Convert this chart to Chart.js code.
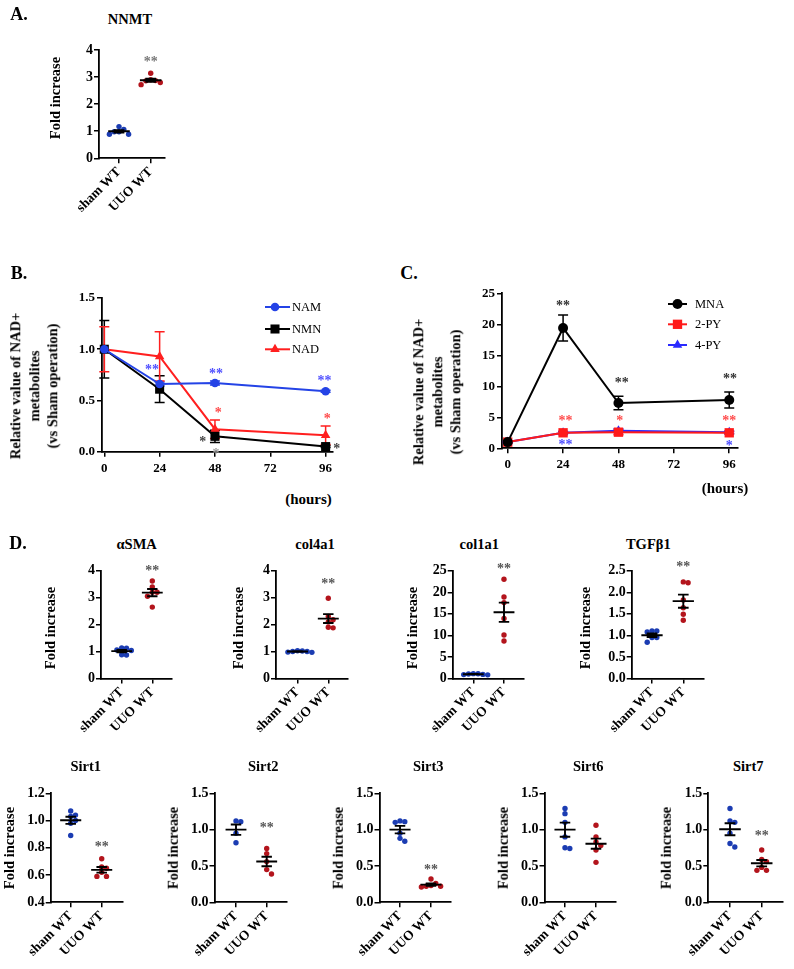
<!DOCTYPE html>
<html><head><meta charset="utf-8"><title>NAD+ metabolites figure</title>
<script src="https://cdn.jsdelivr.net/npm/chart.js@4.4.1/dist/chart.umd.min.js"></script>
<style>
html,body{margin:0;padding:0;background:#fff}
body{position:relative;width:794px;height:969px;overflow:hidden;font-family:"Liberation Serif","Times New Roman",serif;color:#000}
canvas{position:absolute}
.lbl{position:absolute;white-space:nowrap;font-weight:bold;line-height:1;transform-origin:center center}
</style></head><body>
<script>
// ---------------- DATA ----------------
const GROUPS = ['sham WT', 'UUO WT'];

// Panel A : NNMT
const nnmtSham = [1.07, 1.17, 0.89, 0.98, 0.89, 0.98];
const nnmtUUO  = [3.14, 2.90, 2.87, 2.86, 2.80, 2.72];

// Panel D : fibrosis markers and sirtuins
const asmaSham   = [1.12, 1.06, 1.04, 0.88, 0.87, 1.13];
const asmaUUO    = [3.62, 3.40, 3.20, 3.20, 3.05, 2.65];
const col4a1Sham = [0.97, 1.03, 1.00, 0.98, 1.02, 1.00];
const col4a1UUO  = [2.98, 2.30, 2.18, 2.10, 1.88, 1.90];
const col1a1Sham = [0.85, 1.05, 0.95, 1.12, 0.90, 1.10];
const col1a1UUO  = [23.0, 18.9, 17.6, 13.9, 10.1, 8.7];
const tgfSham    = [1.10, 1.08, 1.10, 0.95, 0.95, 0.84];
const tgfUUO     = [2.22, 2.24, 1.82, 1.64, 1.49, 1.35];
const sirt1Sham  = [1.07, 1.04, 1.03, 1.00, 0.98, 0.89];
const sirt1UUO   = [0.72, 0.66, 0.65, 0.62, 0.59, 0.59];
const sirt2Sham  = [1.12, 1.11, 0.95, 0.82];
const sirt2UUO   = [0.74, 0.67, 0.56, 0.45, 0.39];
const sirt3Sham  = [1.12, 1.10, 1.11, 0.95, 0.88, 0.84];
const sirt3UUO   = [0.32, 0.26, 0.22, 0.22, 0.21, 0.23];
const sirt6Sham  = [1.29, 1.22, 1.10, 0.90, 0.75, 0.74];
const sirt6UUO   = [1.06, 0.90, 0.83, 0.78, 0.72, 0.55];
const sirt7Sham  = [1.29, 1.12, 1.10, 0.95, 0.81, 0.76];
const sirt7UUO   = [0.72, 0.59, 0.56, 0.48, 0.44, 0.44];

// y tick labels of the dot plots
const ticks0to4   = [0, 1, 2, 3, 4];
const ticks0to25  = [0, 5, 10, 15, 20, 25];
const ticks0to25b = [0, 0.5, 1.0, 1.5, 2.0, 2.5];
const ticks04to12 = [0.4, 0.6, 0.8, 1.0, 1.2];
const ticks0to15  = [0, 0.5, 1.0, 1.5];

// significance marks above the UUO group (value of mark centre)
const dotNames    = ['NNMT', 'αSMA', 'col4a1', 'col1a1', 'TGFβ1', 'Sirt1', 'Sirt2', 'Sirt3', 'Sirt6', 'Sirt7'];
const dotStarText = ['**', '**', '**', '**', '**', '**', '**', '**', '', '**'];
const dotStarY    = [3.65, 4.08, 3.6, 26.0, 2.63, 0.82, 1.05, 0.48, null, 0.94];

// Panel B : NAD+ metabolites (0.0-1.5)
const hours     = [0, 24, 48, 96];
const hourTicks = [0, 24, 48, 72, 96];
const namMean = [1.00, 0.66, 0.67, 0.59], namSem = [0.00, 0.02, 0.02, 0.01];
const nmnMean = [1.00, 0.61, 0.15, 0.05], nmnSem = [0.28, 0.13, 0.06, 0.01];
const nadMean = [1.00, 0.93, 0.22, 0.16], nadSem = [0.22, 0.24, 0.09, 0.09];
const bTicks  = [0, 0.5, 1.0, 1.5];
const bStarText = ['**', '**', '**', '*', '*', '*', '*', '*'];
const bStarX    = [20.7, 48.5, 95.5, 49.4, 96.7, 42.7, 100.8, 48.4];
const bStarY    = [0.815, 0.78, 0.71, 0.40, 0.34, 0.12, 0.05, 0.0];
const bStarCol  = ['#5050ff', '#5050ff', '#5050ff', '#ff4a4a', '#ff4a4a', '#444', '#444', '#999'];

// Panel C : MNA, 2-PY, 4-PY (0-25)
const mnaMean = [1.0, 19.4, 7.3, 7.8],  mnaSem = [0.1, 2.1, 1.1, 1.3];
const py2Mean = [1.0, 2.5, 2.6, 2.5],   py2Sem = [0.1, 0.2, 0.4, 0.2];
const py4Mean = [1.0, 2.5, 2.85, 2.6],  py4Sem = [0.1, 0.2, 0.3, 0.2];
const cTicks  = [0, 5, 10, 15, 20, 25];
const cStarText = ['**', '**', '**', '**', '*', '**', '**', '*'];
const cStarX    = [24, 49.4, 96.3, 25.1, 48.6, 96, 25, 96];
const cStarY    = [23.4, 10.9, 11.55, 4.73, 4.73, 4.7, 0.97, 0.8];
const cStarCol  = ['#333', '#333', '#333', '#ff4a4a', '#ff4a4a', '#ff4a4a', '#4a4aff', '#4a4aff'];

// ---------------- HELPERS ----------------
const SERIF = '"Liberation Serif", "Times New Roman", serif';
Chart.defaults.font.family = SERIF;
Chart.defaults.color = '#000';
Chart.defaults.animation = false;
Chart.defaults.plugins.legend.display = false;
Chart.defaults.plugins.tooltip.enabled = false;

const BLUE_DOT = '#1b3cb2', RED_DOT = '#b3141c';
const mean = a => a.reduce((s, v) => s + v, 0) / a.length;
const sem = a => { const m = mean(a); return Math.sqrt(a.reduce((s, v) => s + (v - m) * (v - m), 0) / (a.length - 1) / a.length); };
const fmt1 = v => Number(v).toFixed(1);
const fmt0 = v => String(Math.round(v));

function mkCanvas(l, t, w, h) {
  const c = document.createElement('canvas');
  c.width = w; c.height = h;
  c.style.left = l + 'px'; c.style.top = t + 'px';
  c.style.width = w + 'px'; c.style.height = h + 'px';
  document.body.appendChild(c);
  return c;
}
function addText(txt, cx, cy, size, o = {}) {
  const d = document.createElement('div');
  d.className = 'lbl';
  if (Array.isArray(txt)) {
    txt.forEach((t, i) => { if (i) d.appendChild(document.createElement('br')); d.appendChild(document.createTextNode(t)); });
    d.style.textAlign = 'center';
    d.style.lineHeight = (o.lh || size * 1.2) + 'px';
  } else d.textContent = txt;
  d.style.fontSize = size + 'px';
  if (o.normal) d.style.fontWeight = 'normal';
  d.style.left = cx + 'px'; d.style.top = cy + 'px';
  d.style.transform = 'translate(-50%,-50%)' + (o.rot ? ' rotate(-90deg)' : '');
  document.body.appendChild(d);
}
// simple beeswarm: horizontal offsets (in x units) so that dots do not overlap
function swarm(vals, unitsPerPx, step) {
  const placed = [], off = new Array(vals.length);
  const order = vals.map((v, i) => i).sort((a, b) => vals[b] - vals[a]);
  for (const i of order) {
    for (let k = 0; k < 30; k++) {
      const cand = (k === 0 ? 0 : (k % 2 ? Math.ceil(k / 2) : -k / 2)) * step;
      const ok = placed.every(p => Math.abs(p.y - vals[i]) / unitsPerPx >= 5 || Math.abs(p.x - cand) >= step * 0.99);
      if (ok) { off[i] = cand; placed.push({ x: cand, y: vals[i] }); break; }
    }
  }
  return off;
}
function drawStar(ctx, text, x, y, color) {
  ctx.fillStyle = color;
  ctx.font = 'bold 14px ' + SERIF;
  ctx.textAlign = 'center';
  ctx.textBaseline = 'alphabetic';
  ctx.fillText(text, x, y + 6.3);
}
function axisLook(fontSize, pad) {
  return {
    grid: { drawOnChartArea: false, drawTicks: true, tickLength: 5, color: '#000', lineWidth: 1.5 },
    border: { display: true, color: '#000', width: 1.8 },
    ticks: { font: { family: SERIF, size: fontSize, weight: 'bold' }, color: '#000', padding: pad, autoSkip: false }
  };
}

// ---------------- DOT PLOTS ----------------
function dotPanel(L, idx, sham, uuo, yTicks, fmt, starColor) {
  const boxL = Math.round(L.l - 46), boxT = Math.round(L.t - 14), boxR = Math.round(L.r + 8), boxB = Math.round(L.b + 72);
  const W = boxR - boxL, H = boxB - boxT;
  const cv = mkCanvas(boxL, boxT, W, H);
  const s = L.uuo - L.sham;
  const xmin = 1 - (L.sham - L.l) / s, xmax = 2 + (L.r - L.uuo) / s;
  const ymin = yTicks[0], ymax = yTicks[yTicks.length - 1];
  const upp = (ymax - ymin) / (L.b - L.t);
  const step = 4.8 / s;
  const oS = swarm(sham, upp, step), oU = swarm(uuo, upp, step);
  const ax = axisLook(13.5, 1), ay = axisLook(14, 1);
  const decor = {
    id: 'decor' + idx,
    afterDatasetsDraw(chart) {
      const { ctx, scales: { x, y } } = chart;
      ctx.save();
      ctx.strokeStyle = '#000'; ctx.lineWidth = 1.9; ctx.lineCap = 'butt';
      const px = x.getPixelForValue(2) - x.getPixelForValue(1);
      [sham, uuo].forEach((vals, g) => {
        const m = mean(vals), e = sem(vals);
        const cx = x.getPixelForValue(g + 1), ym = y.getPixelForValue(m);
        const yt = y.getPixelForValue(m + e), yb = y.getPixelForValue(m - e);
        const hw = 0.34 * px, cw = 0.17 * px;
        ctx.beginPath();
        ctx.moveTo(cx - hw, ym); ctx.lineTo(cx + hw, ym);
        ctx.moveTo(cx, yt); ctx.lineTo(cx, yb);
        ctx.moveTo(cx - cw, yt); ctx.lineTo(cx + cw, yt);
        ctx.moveTo(cx - cw, yb); ctx.lineTo(cx + cw, yb);
        ctx.stroke();
      });
      if (dotStarText[idx]) drawStar(ctx, dotStarText[idx], x.getPixelForValue(2), y.getPixelForValue(dotStarY[idx]), starColor);
      ctx.restore();
    }
  };
  new Chart(cv, {
    type: 'scatter',
    data: {
      datasets: [
        { data: sham.map((v, i) => ({ x: 1 + oS[i], y: v })), backgroundColor: BLUE_DOT, borderWidth: 0, pointRadius: 2.7, clip: false },
        { data: uuo.map((v, i) => ({ x: 2 + oU[i], y: v })), backgroundColor: RED_DOT, borderWidth: 0, pointRadius: 2.7, clip: false }
      ]
    },
    options: {
      responsive: false, maintainAspectRatio: false, events: [],
      layout: { padding: { left: 0, top: L.t - boxT, right: boxR - L.r, bottom: 0 } },
      scales: {
        x: Object.assign(ax, {
          type: 'linear', min: xmin, max: xmax,
          afterBuildTicks: sc => { sc.ticks = [{ value: 1 }, { value: 2 }]; },
          ticks: Object.assign(ax.ticks, { callback: v => GROUPS[Math.round(v) - 1] || '', minRotation: 45, maxRotation: 45 }),
          afterFit: sc => { sc.height = boxB - L.b; sc.paddingLeft = 0; sc.paddingRight = 0; }
        }),
        y: Object.assign(ay, {
          type: 'linear', min: ymin, max: ymax,
          afterBuildTicks: sc => { sc.ticks = yTicks.map(v => ({ value: v })); },
          ticks: Object.assign(ay.ticks, { callback: v => fmt(v) }),
          afterFit: sc => { sc.width = L.l - boxL; sc.paddingTop = 0; sc.paddingBottom = 0; }
        })
      }
    },
    plugins: [decor]
  });
  addText(dotNames[idx], L.tx, L.ty, 14.5);
  addText('Fold increase', L.yx, L.yy, 14.5, { rot: true });
}

// layout of each dot panel (page px): axis left, sham x, UUO x, axis right, top, bottom, title & y-title centres
const TOP = { t: 570.7, b: 678.5, ty: 544, yy: 628.3 };
const BOT = { t: 793.3, b: 902.3, ty: 765.7, yy: 847.5 };
dotPanel({ l: 99, sham: 119, uuo: 150.7, r: 165, t: 50, b: 158.3, tx: 130, ty: 19, yx: 55, yy: 97.5 }, 0, nnmtSham, nnmtUUO, ticks0to4, fmt0, '#777');
dotPanel(Object.assign({ l: 101, sham: 121.7, uuo: 152.3, r: 172, tx: 136.7, yx: 50 }, TOP), 1, asmaSham, asmaUUO, ticks0to4, fmt0, '#555');
dotPanel(Object.assign({ l: 276, sham: 297.5, uuo: 328.3, r: 348, tx: 315, yx: 238.3 }, TOP), 2, col4a1Sham, col4a1UUO, ticks0to4, fmt0, '#555');
dotPanel(Object.assign({ l: 452.7, sham: 473.3, uuo: 504, r: 524, tx: 479.3, yx: 411.7 }, TOP), 3, col1a1Sham, col1a1UUO, ticks0to25, fmt0, '#555');
dotPanel(Object.assign({ l: 631.7, sham: 652, uuo: 683.3, r: 704, tx: 648.3, yx: 585 }, TOP), 4, tgfSham, tgfUUO, ticks0to25b, fmt1, '#555');
dotPanel(Object.assign({ l: 50.7, sham: 70.7, uuo: 101.7, r: 123, tx: 85.7, yx: 9 }, BOT), 5, sirt1Sham, sirt1UUO, ticks04to12, fmt1, '#555');
dotPanel(Object.assign({ l: 214.5, sham: 236, uuo: 266.7, r: 287, tx: 263.3, yx: 172.5 }, BOT), 6, sirt2Sham, sirt2UUO, ticks0to15, fmt1, '#555');
dotPanel(Object.assign({ l: 379.5, sham: 400, uuo: 431, r: 451, tx: 428.3, yx: 337.5 }, BOT), 7, sirt3Sham, sirt3UUO, ticks0to15, fmt1, '#555');
dotPanel(Object.assign({ l: 544.5, sham: 565, uuo: 596, r: 616, tx: 588.3, yx: 502.5 }, BOT), 8, sirt6Sham, sirt6UUO, ticks0to15, fmt1, '#555');
dotPanel(Object.assign({ l: 708.3, sham: 730, uuo: 761.7, r: 783, tx: 748.3, yx: 665.8 }, BOT), 9, sirt7Sham, sirt7UUO, ticks0to15, fmt1, '#555');

// ---------------- TIME-COURSE PLOTS ----------------
function drawMarker(ctx, style, x, y, r, color) {
  ctx.fillStyle = color; ctx.beginPath();
  if (style === 'circle') ctx.arc(x, y, r, 0, Math.PI * 2);
  else if (style === 'rect') { const h = r * Math.SQRT1_2; ctx.rect(x - h, y - h, 2 * h, 2 * h); }
  else { ctx.moveTo(x, y - r); ctx.lineTo(x + r * 0.866, y + r * 0.5); ctx.lineTo(x - r * 0.866, y + r * 0.5); ctx.closePath(); }
  ctx.fill();
}
function linePanel(L, series, yTicks, fmt, stars, legend) {
  const boxL = Math.round(L.l - 42), boxT = Math.round(L.t - 14), boxR = Math.round(L.r + 16), boxB = Math.round(L.b + 32);
  const W = boxR - boxL, H = boxB - boxT;
  const cv = mkCanvas(boxL, boxT, W, H);
  const ax = axisLook(13, 4), ay = axisLook(13, 2);
  const decor = {
    id: 'lineDecor',
    beforeDatasetsDraw(chart) {
      const { ctx, scales: { x, y } } = chart;
      ctx.save(); ctx.lineWidth = 1.5;
      series.forEach(se => {
        ctx.strokeStyle = se.color;
        se.mean.forEach((m, i) => {
          const e = se.err[i]; if (!e) return;
          const px = x.getPixelForValue(hours[i]);
          const y1 = y.getPixelForValue(m + e), y2 = y.getPixelForValue(m - e);
          ctx.beginPath();
          ctx.moveTo(px, y1); ctx.lineTo(px, y2);
          ctx.moveTo(px - 5, y1); ctx.lineTo(px + 5, y1);
          ctx.moveTo(px - 5, y2); ctx.lineTo(px + 5, y2);
          ctx.stroke();
        });
      });
      ctx.restore();
    },
    afterDatasetsDraw(chart) {
      const { ctx, scales: { x, y } } = chart;
      ctx.save();
      stars.text.forEach((t, i) => drawStar(ctx, t, x.getPixelForValue(stars.x[i]), y.getPixelForValue(stars.y[i]), stars.col[i]));
      series.forEach((se, i) => {
        const ly = legend.y[i] - boxT, lx0 = legend.x0 - boxL, lx1 = legend.x1 - boxL;
        ctx.strokeStyle = se.color; ctx.lineWidth = 2;
        ctx.beginPath(); ctx.moveTo(lx0, ly); ctx.lineTo(lx1, ly); ctx.stroke();
        drawMarker(ctx, se.style, legend.mx - boxL, ly, se.r, se.color);
        ctx.fillStyle = '#000'; ctx.font = '12.5px ' + SERIF;
        ctx.textAlign = 'left'; ctx.textBaseline = 'middle';
        ctx.fillText(se.label, legend.tx - boxL, ly + 0.5);
      });
      ctx.restore();
    }
  };
  new Chart(cv, {
    type: 'line',
    data: {
      datasets: series.map(se => ({
        label: se.label,
        data: se.mean.map((m, i) => ({ x: hours[i], y: m })),
        borderColor: se.color, backgroundColor: se.color, borderWidth: 2, tension: 0,
        pointStyle: se.style, pointRadius: se.r, pointBorderWidth: 0, pointBackgroundColor: se.color, clip: false
      }))
    },
    options: {
      responsive: false, maintainAspectRatio: false, events: [],
      layout: { padding: { left: 0, top: L.t - boxT, right: boxR - L.r, bottom: 0 } },
      scales: {
        x: Object.assign(ax, {
          type: 'linear', min: L.xmin, max: L.xmax,
          afterBuildTicks: sc => { sc.ticks = hourTicks.map(v => ({ value: v })); },
          ticks: Object.assign(ax.ticks, { callback: v => String(v), maxRotation: 0, minRotation: 0 }),
          afterFit: sc => { sc.height = boxB - L.b; sc.paddingLeft = 0; sc.paddingRight = 0; }
        }),
        y: Object.assign(ay, {
          type: 'linear', min: yTicks[0], max: yTicks[yTicks.length - 1],
          afterBuildTicks: sc => { sc.ticks = yTicks.map(v => ({ value: v })); },
          ticks: Object.assign(ay.ticks, { callback: v => fmt(v) }),
          afterFit: sc => { sc.width = L.l - boxL; sc.paddingTop = 0; sc.paddingBottom = 0; }
        })
      }
    },
    plugins: [decor]
  });
}

linePanel({ l: 102, t: 298, r: 333, b: 451.7, xmin: -1, xmax: 99.2 },
  [
    { label: 'NAM', mean: namMean, err: namSem, color: '#2443e6', style: 'circle', r: 4.3 },
    { label: 'NMN', mean: nmnMean, err: nmnSem, color: '#000000', style: 'rect', r: 6.4 },
    { label: 'NAD', mean: nadMean, err: nadSem, color: '#ff1f1f', style: 'triangle', r: 5.5 }
  ], bTicks, fmt1,
  { text: bStarText, x: bStarX, y: bStarY, col: bStarCol },
  { y: [307, 329, 349.3], x0: 265, x1: 290, mx: 275, tx: 292 });

linePanel({ l: 502, t: 293.3, r: 738, b: 448.3, xmin: -2.47, xmax: 99.8 },
  [
    { label: 'MNA', mean: mnaMean, err: mnaSem, color: '#000000', style: 'circle', r: 5 },
    { label: '2-PY', mean: py2Mean, err: py2Sem, color: '#ff1a1a', style: 'rect', r: 6.6 },
    { label: '4-PY', mean: py4Mean, err: py4Sem, color: '#2a2aff', style: 'triangle', r: 5.5 }
  ], cTicks, fmt0,
  { text: cStarText, x: cStarX, y: cStarY, col: cStarCol },
  { y: [304, 324.3, 345], x0: 668, x1: 687, mx: 677.5, tx: 695 });

// ---------------- TEXT ----------------
addText('A.', 19, 14, 18);
addText('B.', 19, 273, 18);
addText('C.', 409, 273, 18);
addText('D.', 18, 543, 18);
addText(['Relative value of NAD+', 'metabolites', '(vs Sham operation)'], 34, 386, 14.5, { rot: true, lh: 18.5 });
addText(['Relative value of NAD+', 'metabolites', '(vs Sham operation)'], 437, 392, 14.5, { rot: true, lh: 18.5 });
addText('(hours)', 308.5, 498.5, 15);
addText('(hours)', 725, 487.5, 15);
</script>
</body></html>
